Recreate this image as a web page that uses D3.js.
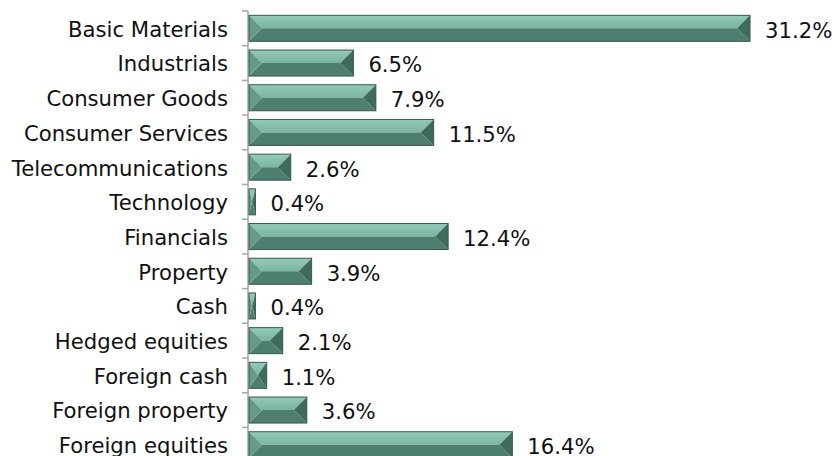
<!DOCTYPE html>
<html><head><meta charset="utf-8">
<script src="https://cdn.jsdelivr.net/npm/d3@7"></script>
<style>body{margin:0;background:#fff}svg{display:block}</style>
</head><body>
<script>
const categories = ["Basic Materials","Industrials","Consumer Goods","Consumer Services","Telecommunications","Technology","Financials","Property","Cash","Hedged equities","Foreign cash","Foreign property","Foreign equities"];
const values = [31.2,6.5,7.9,11.5,2.6,0.4,12.4,3.9,0.4,2.1,1.1,3.6,16.4];
const labels = ["31.2%","6.5%","7.9%","11.5%","2.6%","0.4%","12.4%","3.9%","0.4%","2.1%","1.1%","3.6%","16.4%"];

const W=837,H=456;
const FS=21.2;
const svg=d3.select("body").append("svg").attr("width",W).attr("height",H);
const defs=svg.append("defs");
const g1=defs.append("linearGradient").attr("id","topg").attr("x1",0).attr("y1",0).attr("x2",0).attr("y2",1);
g1.append("stop").attr("offset","0%").attr("stop-color","#93cab9");
g1.append("stop").attr("offset","100%").attr("stop-color","#7cb4a3");

const x=d3.scaleLinear().domain([0,31.2]).range([249,750]);
const y=d3.scaleBand().domain(categories).range([11,11+13*34.7]).paddingInner(0.25).paddingOuter(0.125);

const data=categories.map((c,i)=>({c,v:values[i],l:labels[i]}));

// axis
const ax=svg.append("g").attr("transform","translate(248,0)");
ax.append("line").attr("x1",0).attr("x2",0).attr("y1",y.range()[0]).attr("y2",H).attr("stroke","#a6a6a6").attr("stroke-width",1.5);
const ticks=d3.range(14).map(i=>y.range()[0]+i*y.step());
ax.selectAll(".tk").data(ticks).join("line").attr("x1",-6).attr("x2",0).attr("y1",d=>d).attr("y2",d=>d).attr("stroke","#a6a6a6").attr("stroke-width",1.5);

svg.selectAll(".cat").data(data).join("text")
  .attr("x",228).attr("y",d=>y(d.c)+y.bandwidth()/2+1).attr("dy","0.35em")
  .attr("text-anchor","end").attr("font-family","DejaVu Sans, Verdana, sans-serif").attr("font-size",FS).attr("fill","#111")
  .text(d=>d.c);

const bars=svg.selectAll(".bar").data(data).join("g");
bars.each(function(d){
  const g=d3.select(this);
  const x0=x(0),x1=x(d.v),y0=y(d.c),y1=y0+y.bandwidth();
  const w=x1-x0,h=y1-y0;
  const b=Math.min(13,w/2);
  const ym=(y0+y1)/2;
  const pts=a=>a.map(p=>p.join(",")).join(" ");
  g.append("polygon").attr("points",pts([[x0,y0],[x1,y0],[x1-b,ym],[x0+b,ym]])).attr("fill","url(#topg)");
  g.append("polygon").attr("points",pts([[x0,y1],[x1,y1],[x1-b,ym],[x0+b,ym]])).attr("fill","#4e7e6f");
  g.append("polygon").attr("points",pts([[x0,y0],[x0+b,ym],[x0,y1]])).attr("fill","#65998a");
  g.append("polygon").attr("points",pts([[x1,y0],[x1-b,ym],[x1,y1]])).attr("fill","#3f6b5d");
  g.append("rect").attr("x",x0).attr("y",y0).attr("width",w).attr("height",h).attr("fill","none").attr("stroke","#36594d").attr("stroke-width",1);
});

svg.selectAll(".val").data(data).join("text")
  .attr("x",d=>x(d.v)+15).attr("y",d=>y(d.c)+y.bandwidth()/2+2).attr("dy","0.35em")
  .attr("font-family","DejaVu Sans, Verdana, sans-serif").attr("font-size",FS).attr("fill","#111")
  .text(d=>d.l);
</script>
</body></html>
